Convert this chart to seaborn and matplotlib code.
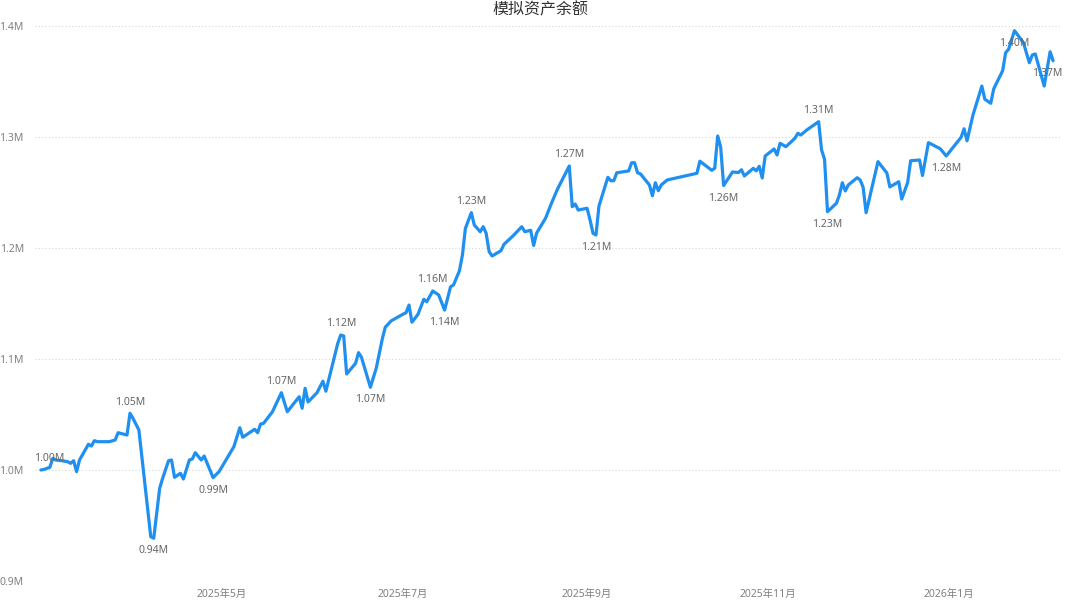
import matplotlib
matplotlib.use("Agg")
import matplotlib.pyplot as plt
import matplotlib.dates as mdates
from matplotlib.ticker import FuncFormatter
import seaborn as sns
import pandas as pd

# Data (asset balance, in millions)
dates = [
    "2025-03-01", "2025-03-02", "2025-03-04", "2025-03-05", "2025-03-06", "2025-03-08",
    "2025-03-10", "2025-03-11", "2025-03-12", "2025-03-13", "2025-03-14", "2025-03-17",
    "2025-03-18", "2025-03-19", "2025-03-20", "2025-03-24", "2025-03-26", "2025-03-27",
    "2025-03-30", "2025-03-31", "2025-04-01", "2025-04-03", "2025-04-07", "2025-04-08",
    "2025-04-10", "2025-04-11", "2025-04-13", "2025-04-14", "2025-04-15", "2025-04-17",
    "2025-04-18", "2025-04-20", "2025-04-21", "2025-04-22", "2025-04-24", "2025-04-25",
    "2025-04-28", "2025-04-30", "2025-05-05", "2025-05-07", "2025-05-08", "2025-05-12",
    "2025-05-13", "2025-05-14", "2025-05-15", "2025-05-18", "2025-05-21", "2025-05-23",
    "2025-05-27", "2025-05-28", "2025-05-29", "2025-05-30", "2025-06-02", "2025-06-04",
    "2025-06-05", "2025-06-09", "2025-06-10", "2025-06-11", "2025-06-12", "2025-06-15",
    "2025-06-16", "2025-06-17", "2025-06-20", "2025-06-22", "2025-06-24", "2025-06-25",
    "2025-06-27", "2025-07-01", "2025-07-02", "2025-07-03", "2025-07-04", "2025-07-06",
    "2025-07-08", "2025-07-09", "2025-07-11", "2025-07-13", "2025-07-15", "2025-07-17",
    "2025-07-18", "2025-07-20", "2025-07-21", "2025-07-22", "2025-07-24", "2025-07-25",
    "2025-07-27", "2025-07-28", "2025-07-29", "2025-07-30", "2025-07-31", "2025-08-03",
    "2025-08-04", "2025-08-07", "2025-08-10", "2025-08-11", "2025-08-13", "2025-08-14",
    "2025-08-15", "2025-08-18", "2025-08-20", "2025-08-22", "2025-08-26", "2025-08-27",
    "2025-08-28", "2025-08-29", "2025-09-01", "2025-09-02", "2025-09-03", "2025-09-04",
    "2025-09-05", "2025-09-08", "2025-09-09", "2025-09-10", "2025-09-11", "2025-09-15",
    "2025-09-16", "2025-09-17", "2025-09-18", "2025-09-19", "2025-09-22", "2025-09-23",
    "2025-09-24", "2025-09-25", "2025-09-26", "2025-09-28", "2025-10-08", "2025-10-09",
    "2025-10-13", "2025-10-14", "2025-10-15", "2025-10-16", "2025-10-17", "2025-10-20",
    "2025-10-22", "2025-10-23", "2025-10-24", "2025-10-27", "2025-10-28", "2025-10-29",
    "2025-10-30", "2025-10-31", "2025-11-03", "2025-11-04", "2025-11-05", "2025-11-07",
    "2025-11-10", "2025-11-11", "2025-11-12", "2025-11-14", "2025-11-18", "2025-11-19",
    "2025-11-20", "2025-11-21", "2025-11-24", "2025-11-25", "2025-11-26", "2025-11-27",
    "2025-11-28", "2025-12-01", "2025-12-02", "2025-12-03", "2025-12-04", "2025-12-08",
    "2025-12-11", "2025-12-12", "2025-12-15", "2025-12-16", "2025-12-18", "2025-12-19",
    "2025-12-22", "2025-12-23", "2025-12-25", "2025-12-29", "2025-12-31", "2026-01-05",
    "2026-01-06", "2026-01-07", "2026-01-09", "2026-01-12", "2026-01-13", "2026-01-15",
    "2026-01-16", "2026-01-19", "2026-01-20", "2026-01-21", "2026-01-23", "2026-01-26",
    "2026-01-28", "2026-01-29", "2026-01-30", "2026-02-02", "2026-02-04", "2026-02-05",
]
balance_m = [
    1.0000, 1.0005, 1.0024, 1.0105, 1.0090, 1.0084,
    1.0075, 1.0060, 1.0084, 0.9985, 1.0090, 1.0232,
    1.0216, 1.0264, 1.0255, 1.0255, 1.0270, 1.0336,
    1.0315, 1.0511, 1.0466, 1.0360, 0.9399, 0.9385,
    0.9835, 0.9925, 1.0084, 1.0090, 0.9934, 0.9970,
    0.9919, 1.0090, 1.0099, 1.0156, 1.0090, 1.0126,
    0.9931, 0.9985, 1.0210, 1.0381, 1.0295, 1.0367,
    1.0336, 1.0414, 1.0420, 1.0525, 1.0696, 1.0525,
    1.0660, 1.0556, 1.0736, 1.0613, 1.0696, 1.0800,
    1.0710, 1.1141, 1.1216, 1.1207, 1.0865, 1.0961,
    1.1057, 1.1014, 1.0745, 1.0921, 1.1180, 1.1286,
    1.1344, 1.1404, 1.1417, 1.1486, 1.1332, 1.1401,
    1.1538, 1.1516, 1.1613, 1.1577, 1.1441, 1.1651,
    1.1667, 1.1795, 1.1937, 1.2177, 1.2318, 1.2207,
    1.2147, 1.2192, 1.2132, 1.1967, 1.1928, 1.1976,
    1.2033, 1.2108, 1.2192, 1.2147, 1.2159, 1.2023,
    1.2135, 1.2268, 1.2403, 1.2529, 1.2739, 1.2372,
    1.2396, 1.2342, 1.2358, 1.2252, 1.2132, 1.2117,
    1.2378, 1.2637, 1.2606, 1.2606, 1.2678, 1.2694,
    1.2768, 1.2768, 1.2678, 1.2667, 1.2568, 1.2471,
    1.2588, 1.2516, 1.2568, 1.2613, 1.2673, 1.2782,
    1.2700, 1.2718, 1.3009, 1.2910, 1.2563, 1.2685,
    1.2680, 1.2705, 1.2649, 1.2718, 1.2695, 1.2736,
    1.2631, 1.2829, 1.2892, 1.2838, 1.2943, 1.2913,
    1.2988, 1.3033, 1.3018, 1.3063, 1.3138, 1.2883,
    1.2799, 1.2327, 1.2403, 1.2477, 1.2588, 1.2514,
    1.2568, 1.2633, 1.2613, 1.2547, 1.2318, 1.2778,
    1.2676, 1.2550, 1.2597, 1.2441, 1.2590, 1.2786,
    1.2793, 1.2653, 1.2949, 1.2894, 1.2829, 1.2997,
    1.3074, 1.2966, 1.3198, 1.3459, 1.3340, 1.3304,
    1.3434, 1.3597, 1.3759, 1.3790, 1.3958, 1.3850,
    1.3669, 1.3739, 1.3748, 1.3459, 1.3768, 1.3687,
]

# points that carry a value label, and whether the label sits above or below
label_dates = [
    "2025-03-01", "2025-03-31", "2025-04-08", "2025-04-28", "2025-05-21", "2025-06-10",
    "2025-06-20", "2025-07-11", "2025-07-15", "2025-07-24", "2025-08-26", "2025-09-04",
    "2025-10-17", "2025-11-18", "2025-11-21", "2025-12-31", "2026-01-23", "2026-02-05",
]
label_above = [
    True, True, False, False, True, True,
    False, True, False, True, True, False,
    False, True, False, False, False, False,
]

tick_dates = ["2025-05-01", "2025-07-01", "2025-09-01", "2025-11-01", "2026-01-01"]
y_ticks = [0.9e6, 1.0e6, 1.1e6, 1.2e6, 1.3e6, 1.4e6]

df = pd.DataFrame({"date": pd.to_datetime(dates), "balance": [v * 1e6 for v in balance_m]})

sns.set_theme(style="white")
plt.rcParams["font.family"] = ["Noto Sans", "Noto Sans CJK SC", "DejaVu Sans"]

fig = plt.figure(figsize=(10.8, 6.07), dpi=100)
ax = fig.add_axes([35 / 1080, 1 - 581 / 607, 1027 / 1080, 555 / 607])

sns.lineplot(data=df, x="date", y="balance", ax=ax, color="#1f8ff0", linewidth=2.3)

# value labels
lookup = df.set_index("date")["balance"]
for d, up in zip(label_dates, label_above):
    ts = pd.Timestamp(d)
    v = lookup[ts]
    dx = 0
    if ts == df["date"].iloc[0]:
        dx = 6
    elif ts == df["date"].iloc[-1]:
        dx = -4
    ax.annotate(f"{v / 1e6:.2f}M", xy=(ts, v), xytext=(dx, 8 if up else -9),
                textcoords="offset points", ha="center", va="center",
                fontsize=7.5, color="#666666")

ax.set_ylim(0.9e6, 1.4e6)
ax.set_yticks(y_ticks)
ax.yaxis.set_major_formatter(FuncFormatter(lambda v, p: f"{v / 1e6:.1f}M"))
ax.set_xlim(df["date"].iloc[0] - pd.Timedelta(days=2), df["date"].iloc[-1] + pd.Timedelta(days=3))
ax.set_xticks(pd.to_datetime(tick_dates))
ax.xaxis.set_major_formatter(FuncFormatter(
    lambda v, p: f"{mdates.num2date(v).year}年{mdates.num2date(v).month}月"))

ax.set_xlabel("")
ax.set_ylabel("")
ax.tick_params(axis="both", length=0, labelsize=7.5, labelcolor="#808080")
ax.tick_params(axis="y", pad=8)
ax.tick_params(axis="x", pad=6)
ax.grid(axis="y", linestyle=(0, (1, 2)), color="#d6d6d6", linewidth=0.8)
ax.grid(axis="x", visible=False)
sns.despine(ax=ax, left=True, bottom=True)

fig.text(0.5, 1 - 10 / 607, "模拟资产余额", ha="center", va="center",
         fontsize=11.5, color="#333333")

fig.savefig("out.png", dpi=100)
